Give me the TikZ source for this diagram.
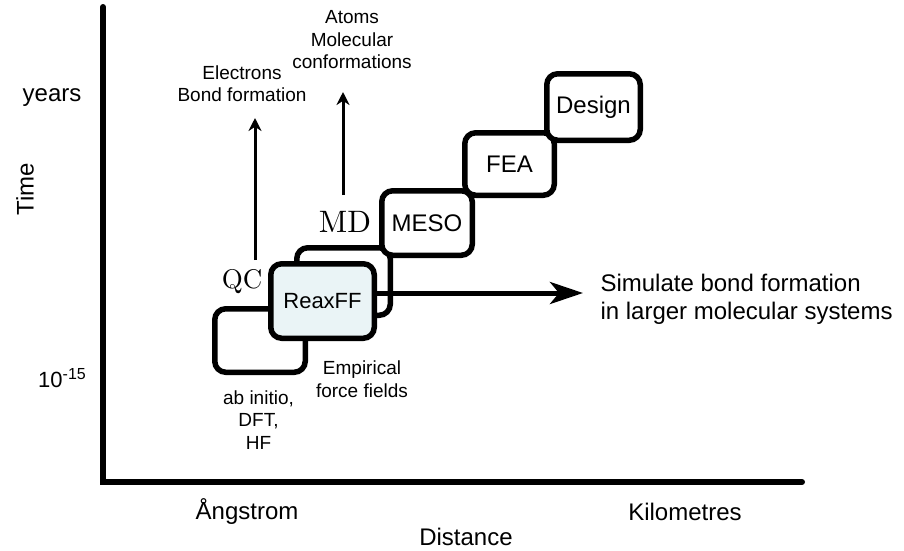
\documentclass[tikz,border=0pt]{standalone}
\usepackage{fontspec}
\usepackage{tikz}
\usetikzlibrary{arrows.meta}
\usepackage{xcolor}
\newfontfamily\arial{Liberation Sans}
\definecolor{reaxfill}{HTML}{EAF4F6}

\begin{document}
\begin{tikzpicture}[x=1pt,y=-1pt,>={Stealth},
  box/.style={draw,line width=5.5pt,rounded corners=11pt,fill=white,inner sep=0pt,
    font=\arial\fontsize{24}{24}\selectfont},
  txt/.style={align=center,font=\arial\fontsize{19}{22.5}\selectfont},
  axlbl/.style={font=\arial\fontsize{24}{24}\selectfont},
  meth/.style={font=\fontsize{10}{10}\selectfont}]
\useasboundingbox (0,0) rectangle (904,550);
%%%AXES
\draw[line width=6pt,line cap=round] (103,7) -- (103,482) -- (802,482);
\node[axlbl] (years) at (52,98) {years};
\node[axlbl,rotate=90] (time) at (25,189) {Time};
\node[axlbl,font=\arial\fontsize{22}{22}\selectfont] (femto) at (62,378)
  {10\raisebox{8pt}{\fontsize{16}{16}\selectfont -15}};
\node[axlbl] (angstrom) at (247,512) {Ångstrom};
\node[axlbl] (distance) at (466,537) {Distance};
\node[axlbl] (km) at (685,512) {Kilometres};
%%%BOXES
\node[box,minimum width=90.5pt,minimum height=63.5pt] (qcbox) at (260,340.5) {};
\node[box,minimum width=93.5pt,minimum height=67.5pt] (mdbox) at (343.5,281.5) {};
\node[box,fill=reaxfill,minimum width=103.5pt,minimum height=74.5pt,
  font=\arial\fontsize{22}{22}\selectfont] (reaxff) at (322.5,301) {ReaxFF};
\node[box,minimum width=90.5pt,minimum height=64.5pt] (meso) at (427,223) {MESO};
\node[box,minimum width=89.5pt,minimum height=62.5pt] (fea) at (509.5,164) {FEA};
\node[box,minimum width=93.5pt,minimum height=66.5pt] (design) at (593.5,107) {Design};
%%%LABELS
\node[meth] (qc) at (242,282) {\scalebox{2.7}{QC}};
\node[meth] (md) at (345,222) {\scalebox{3.1}{MD}};
\node[txt] (elec) at (242,83.5) {Electrons\\Bond formation};
\node[txt] (atoms) at (352,40) {Atoms\\Molecular\\conformations};
\node[txt] (empirical) at (362,379) {Empirical\\force fields};
\node[txt] (abinitio) at (258.5,420) {ab initio,\\DFT,\\HF};
\node[anchor=west,align=left,font=\arial\fontsize{24}{28}\selectfont] (sim) at (597,299)
  {Simulate bond formation\\in larger molecular systems};
%%%ARROWS
\coordinate (qcfoot) at (255,260);
\coordinate (qctip) at (255,118);
\coordinate (mdfoot) at (343,195);
\coordinate (mdtip) at (343,92);
\coordinate (simtip) at (583,293);
\draw[-{Stealth[length=13pt,width=13pt]},line width=3pt] (qcfoot) -- (qctip);
\draw[-{Stealth[length=13pt,width=13pt]},line width=3pt] (mdfoot) -- (mdtip);
\draw[-{Stealth[length=33pt,width=22pt,inset=9pt]},line width=5pt]
  ([yshift=8pt]reaxff.east) -- (simtip);
\end{tikzpicture}
\end{document}
